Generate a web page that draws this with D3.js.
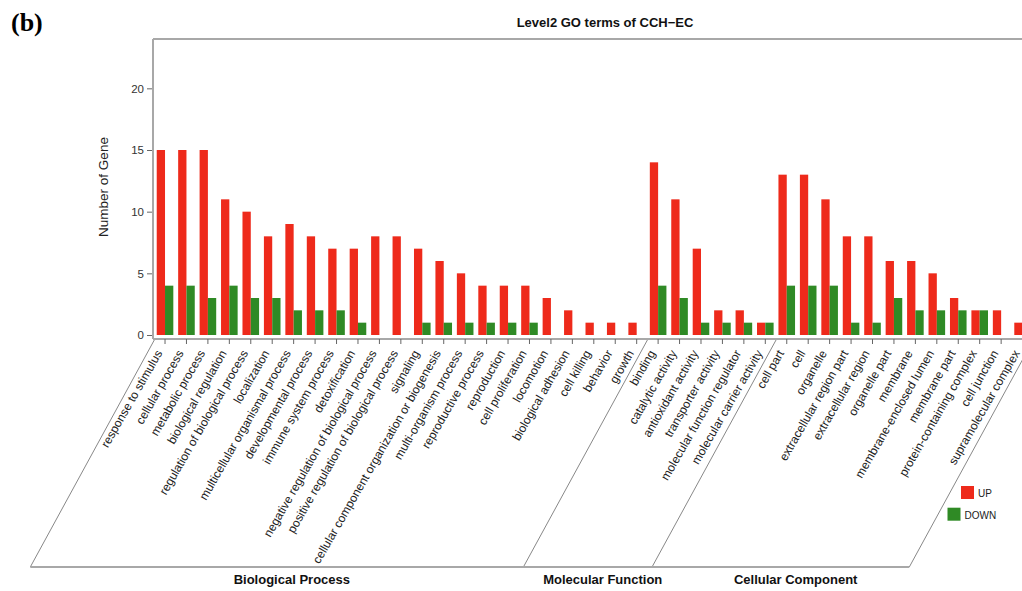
<!DOCTYPE html>
<html>
<head>
<meta charset="utf-8">
<script src="https://cdn.jsdelivr.net/npm/d3@7"></script>
<style>
  body { margin: 0; background: #fff; }
  svg text { font-family: "Liberation Sans", Arial, sans-serif; }
</style>
</head>
<body>
<svg id="chart" width="1022" height="591"></svg>
<script>
// GO terms per top-level group
const bpTerms = ["response to stimulus", "cellular process", "metabolic process", "biological regulation",
  "regulation of biological process", "localization", "multicellular organismal process", "developmental process",
  "immune system process", "detoxification", "negative regulation of biological process",
  "positive regulation of biological process", "signaling", "cellular component organization or biogenesis",
  "multi-organism process", "reproductive process", "reproduction", "cell proliferation", "locomotion",
  "biological adhesion", "cell killing", "behavior", "growth"];
const mfTerms = ["binding", "catalytic activity", "antioxidant activity", "transporter activity",
  "molecular function regulator", "molecular carrier activity"];
const ccTerms = ["cell part", "cell", "organelle", "extracellular region part", "extracellular region",
  "organelle part", "membrane", "membrane-enclosed lumen", "membrane part", "protein-containing complex",
  "cell junction", "supramolecular complex"];

const upValues = [15, 15, 15, 11, 10, 8, 9, 8, 7, 7, 8, 8, 7, 6, 5, 4, 4, 4, 3, 2, 1, 1, 1,
  14, 11, 7, 2, 2, 1,
  13, 13, 11, 8, 8, 6, 6, 5, 3, 2, 2, 1];
const downValues = [4, 4, 3, 4, 3, 3, 2, 2, 2, 1, 0, 0, 1, 1, 1, 1, 1, 1, 0, 0, 0, 0, 0,
  4, 3, 1, 1, 1, 1,
  4, 4, 4, 1, 1, 3, 2, 2, 2, 2, 0, 0];

const groupNames = ["Biological Process", "Molecular Function", "Cellular Component"];
const groupTerms = [bpTerms, mfTerms, ccTerms];
const seriesNames = ["UP", "DOWN"];
const seriesColors = ["#ee2a1b", "#2f8a25"];
const yTicks = [0, 5, 10, 15, 20];

const terms = [].concat(bpTerms, mfTerms, ccTerms);
const rows = terms.map((t, i) => ({term: t, UP: upValues[i], DOWN: downValues[i]}));

const svg = d3.select("#chart");

const AXIS_X = 153;
const TOP_Y = 39;
const AXIS_Y = 339;
const BOTTOM_Y = 567;
const SLANT = 124; // horizontal shift of the slanted group lines

const x = d3.scaleBand().domain(terms).range([154.3, 1033.3]).paddingInner(0.226).paddingOuter(0.113);
const xs = d3.scaleBand().domain(seriesNames).range([0, x.bandwidth()]);
const y = d3.scaleLinear().domain([0, 24]).range([335, TOP_Y]);

// frame lines
svg.append("line").attr("x1", AXIS_X).attr("x2", 1022).attr("y1", TOP_Y).attr("y2", TOP_Y)
  .attr("stroke", "#a8a8a8").attr("stroke-width", 2);
svg.append("line").attr("x1", AXIS_X).attr("x2", AXIS_X).attr("y1", TOP_Y).attr("y2", AXIS_Y)
  .attr("stroke", "#a8a8a8").attr("stroke-width", 2);
svg.append("line").attr("x1", AXIS_X).attr("x2", 1033).attr("y1", AXIS_Y).attr("y2", AXIS_Y)
  .attr("stroke", "#a8a8a8").attr("stroke-width", 2);

// y axis
const yAxis = svg.append("g").attr("transform", `translate(${AXIS_X - 1},0)`)
  .call(d3.axisLeft(y).tickValues(yTicks).tickSize(5).tickPadding(3));
yAxis.select(".domain").remove();
yAxis.selectAll("line").attr("stroke", "#666");
yAxis.selectAll("text").attr("fill", "#333").style("font-size", "11.5px")
  .style("font-family", "'Liberation Sans', Arial, sans-serif");

svg.append("text")
  .attr("transform", "translate(108,187) rotate(-90)")
  .attr("text-anchor", "middle")
  .style("font-size", "13.5px").attr("fill", "#222")
  .text("Number of Gene");

// bars
const groups = svg.append("g").selectAll("g").data(rows).join("g")
  .attr("transform", d => `translate(${x(d.term)},0)`);
groups.selectAll("rect")
  .data(d => seriesNames.map((s, i) => ({s: s, v: d[s], c: seriesColors[i]})))
  .join("rect")
  .attr("x", d => xs(d.s))
  .attr("width", xs.bandwidth())
  .attr("y", d => y(d.v))
  .attr("height", d => y(0) - y(d.v))
  .attr("fill", d => d.c);

// ticks and labels
const tickG = svg.append("g").selectAll("g").data(terms).join("g")
  .attr("transform", d => `translate(${x(d) + x.bandwidth() / 2},${AXIS_Y})`);
tickG.append("line").attr("y1", 0).attr("y2", 5).attr("stroke", "#666");
tickG.append("text")
  .attr("transform", "translate(-6,12) rotate(-60)")
  .attr("text-anchor", "end")
  .attr("dy", "0.35em")
  .style("font-size", "12px").attr("fill", "#222")
  .text(d => d);

// slanted group separators and bottom line
let k = 0;
const bounds = [0];
groupTerms.forEach(g => { k += g.length; bounds.push(k); });
const topX = bounds.map(b => 154.3 + b * x.step());
svg.append("g").selectAll("line").data(topX).join("line")
  .attr("x1", d => d).attr("y1", AXIS_Y + 1)
  .attr("x2", d => d - SLANT).attr("y2", BOTTOM_Y)
  .attr("stroke", "#888").attr("stroke-width", 1);
svg.append("line").attr("x1", topX[0] - SLANT).attr("x2", topX[3] - SLANT)
  .attr("y1", BOTTOM_Y).attr("y2", BOTTOM_Y)
  .attr("stroke", "#a8a8a8").attr("stroke-width", 2);

svg.append("g").selectAll("text").data(groupNames).join("text")
  .attr("x", (d, i) => (topX[i] + topX[i + 1]) / 2 - SLANT + 15)
  .attr("y", 584)
  .attr("text-anchor", "middle")
  .style("font-size", "13px").style("font-weight", "bold").attr("fill", "#111")
  .text(d => d);

// legend
const legend = svg.append("g").selectAll("g").data(seriesNames).join("g")
  .attr("transform", (d, i) => `translate(${961 - i * 13.5},${486 + i * 21.7})`);
legend.append("rect").attr("width", 13).attr("height", 13).attr("fill", (d, i) => seriesColors[i]);
legend.append("text").attr("x", 17).attr("y", 11)
  .style("font-size", "10px").attr("fill", "#222").text(d => d);

// title and panel letter
svg.append("text").attr("x", 605).attr("y", 27).attr("text-anchor", "middle")
  .style("font-size", "13px").style("font-weight", "bold").attr("fill", "#111")
  .text("Level2 GO terms of CCH\u2212EC");
svg.append("text").attr("x", 11).attr("y", 31)
  .style("font-family", "'Liberation Serif', 'Times New Roman', serif")
  .style("font-size", "26px").style("font-weight", "bold").attr("fill", "#000")
  .text("(b)");
</script>
</body>
</html>
